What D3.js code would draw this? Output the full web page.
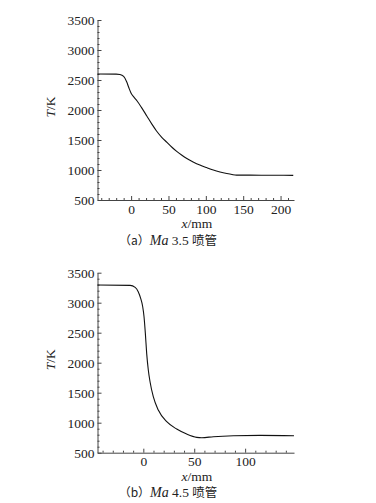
<!DOCTYPE html>
<html>
<head>
<meta charset="utf-8">
<script src="https://cdn.jsdelivr.net/npm/d3@7"></script>
<style>
  body { margin: 0; background: #fff; }
  svg { display: block; }
  text { font-family: "Liberation Serif", "DejaVu Serif", serif; fill: #222; }
  .cjk { font-family: "Noto Sans CJK SC", sans-serif; }
</style>
</head>
<body>
<div id="chart"></div>
<script>
// (a) Ma 3.5 nozzle: x in mm, temperature in K
const xA = [-45, -20, -15, -10, -6, -3, 0, 4, 8, 14, 21, 28, 34, 41, 48, 55, 61, 68, 74, 83, 92, 101, 110, 119, 128, 135, 141, 150, 159, 190, 217];
const tA = [2600, 2598, 2592, 2560, 2470, 2370, 2280, 2210, 2150, 2040, 1900, 1760, 1650, 1545, 1460, 1375, 1310, 1245, 1195, 1135, 1083, 1040, 1000, 968, 942, 925, 915, 914, 914, 913, 911];

// (b) Ma 4.5 nozzle
const xB = [-45, -13, -8, -5, -2.6, -0.6, 0.7, 2, 3.3, 4.9, 6.6, 9.8, 14.7, 23, 32.8, 42.6, 52.5, 57.4, 68.8, 88.5, 114.7, 148];
const tB = [3294, 3289, 3256, 3183, 3072, 2933, 2767, 2489, 2156, 1878, 1683, 1433, 1211, 1017, 894, 811, 756, 750, 767, 783, 789, 783];

const xDomainA = [-45, 218];
const xDomainB = [-45, 148];
const xTicksA = [0, 50, 100, 150, 200];
const xTicksB = [0, 50, 100];
const yTicks = [500, 1000, 1500, 2000, 2500, 3000, 3500];
const captions = [["（a）", "Ma", " 3.5 ", "喷管"], ["（b）", "Ma", " 4.5 ", "喷管"]];

const svg = d3.select('#chart').append('svg')
  .attr('width', 376)
  .attr('height', 503);

function panel(top, xs, ts, xDomain, xTicks, caption) {
  const left = 97.5, right = 294;
  const y0 = top, y1 = top + 180;

  const x = d3.scaleLinear().domain(xDomain).range([left, right]);
  const y = d3.scaleLinear().domain([500, 3500]).range([y1, y0]);

  const g = svg.append('g');

  // minor ticks first
  const xMinor = d3.range(Math.ceil(xDomain[0] / 10) * 10, xDomain[1] + 0.1, 10)
    .filter(v => v % 50 !== 0);
  const yMinor = d3.range(500, 3501, 100).filter(v => v % 500 !== 0);

  g.append('g')
    .attr('transform', `translate(0,${y1})`)
    .call(d3.axisBottom(x).tickValues(xMinor).tickSizeInner(-2).tickSizeOuter(0).tickFormat(''))
    .call(a => a.select('.domain').remove());
  g.append('g')
    .attr('transform', `translate(${left},0)`)
    .call(d3.axisLeft(y).tickValues(yMinor).tickSizeInner(-2).tickSizeOuter(0).tickFormat(''))
    .call(a => a.select('.domain').remove());

  // major axes
  g.append('g')
    .attr('transform', `translate(0,${y1})`)
    .call(d3.axisBottom(x).tickValues(xTicks).tickSizeInner(-4).tickSizeOuter(0).tickPadding(4).tickFormat(d3.format('d')));
  g.append('g')
    .attr('transform', `translate(${left},0)`)
    .call(d3.axisLeft(y).tickValues(yTicks).tickSizeInner(-4).tickSizeOuter(0).tickPadding(3).tickFormat(d3.format('d')));

  g.selectAll('g').attr('font-family', null);
  g.selectAll('.tick line, .domain').attr('stroke', '#444');
  g.selectAll('.tick text')
    .style('font-size', '13.5px')
    .attr('fill', '#222');

  // curve
  const pts = xs.map((v, i) => [v, ts[i]]);
  g.append('path')
    .datum(pts)
    .attr('fill', 'none')
    .attr('stroke', '#111')
    .attr('stroke-width', 1.1)
    .attr('d', d3.line().x(d => x(d[0])).y(d => y(d[1])).curve(d3.curveMonotoneX));

  // axis titles
  const yt = g.append('text')
    .attr('transform', `translate(55,${(y0 + y1) / 2 - 3}) rotate(-90)`)
    .attr('text-anchor', 'middle')
    .style('font-size', '13.5px');
  yt.append('tspan').style('font-style', 'italic').text('T');
  yt.append('tspan').text('/K');

  const xt = g.append('text')
    .attr('x', 197)
    .attr('y', y1 + 28)
    .attr('text-anchor', 'middle')
    .style('font-size', '13.5px');
  xt.append('tspan').style('font-style', 'italic').text('x');
  xt.append('tspan').text('/mm');

  // caption
  const cap = g.append('text')
    .attr('x', 168)
    .attr('y', y1 + 44.5)
    .attr('text-anchor', 'middle')
    .style('font-size', '13.5px');
  cap.append('tspan').attr('class', 'cjk').style('font-size', '12px').text(caption[0]);
  cap.append('tspan').style('font-style', 'italic').style('font-size', '14px').text(caption[1]);
  cap.append('tspan').text(caption[2]);
  cap.append('tspan').attr('class', 'cjk').style('font-size', '12.5px').text(caption[3]);
}

panel(20, xA, tA, xDomainA, xTicksA, captions[0]);
panel(272.7, xB, tB, xDomainB, xTicksB, captions[1]);
</script>
</body>
</html>
